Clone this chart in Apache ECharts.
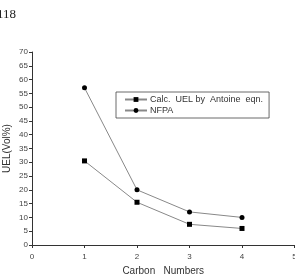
<!DOCTYPE html>
<html>
<head>
<meta charset="utf-8">
<script src="https://cdn.jsdelivr.net/npm/echarts@6/dist/echarts.min.js"></script>
<style>
html, body { margin: 0; padding: 0; background: #fff; }
#main { width: 295px; height: 278px; }
</style>
</head>
<body>
<div id="main"></div>
<script>
// data
var carbonNumbers = [1, 2, 3, 4];
var calcUel = [30.5, 15.5, 7.5, 6];
var nfpaUel = [57, 20, 12, 10];
var seriesNames = ['Calc.  UEL by  Antoine  eqn.', 'NFPA'];

function pairs(xs, ys) {
	return xs.map(function (x, i) { return [x, ys[i]]; });
}

var chart = echarts.init(document.getElementById('main'));

var axisText = { color: '#444', fontSize: 8, fontFamily: 'Liberation Sans' };

chart.setOption({
	animation: false,
	textStyle: { fontFamily: 'Liberation Sans' },
	graphic: [
		{
			type: 'text',
			left: -3,
			top: 8,
			style: { text: '118', fontFamily: 'Liberation Serif', fontSize: 13, fill: '#222' }
		}
	],
	grid: { left: 32, top: 52, right: 0.5, bottom: 33, outerBoundsMode: 'none', containLabel: false },
	legend: {
		orient: 'vertical',
		left: 116,
		top: 92,
		width: 155,
		padding: [3, 6, 3, 8],
		itemGap: 2,
		itemWidth: 22,
		itemHeight: 6,
		borderColor: '#444',
		borderWidth: 0.8,
		borderRadius: 0,
		textStyle: { color: '#333', fontSize: 9, padding: [0, 0, 0, -2] },
		data: seriesNames
	},
	xAxis: {
		type: 'value',
		min: 0, max: 5, interval: 1,
		name: 'Carbon   Numbers',
		nameLocation: 'middle',
		nameGap: 21,
		nameMoveOverlap: false,
		nameTextStyle: { color: '#333', fontSize: 10 },
		axisLine: { lineStyle: { color: '#333', width: 1 } },
		axisTick: { length: 3, lineStyle: { color: '#333' } },
		axisLabel: axisText,
		splitLine: { show: false }
	},
	yAxis: {
		type: 'value',
		min: 0, max: 70, interval: 5,
		name: 'UEL(Vol%)',
		nameLocation: 'middle',
		nameGap: 20,
		nameMoveOverlap: false,
		nameTextStyle: { color: '#333', fontSize: 10 },
		axisLine: { show: true, lineStyle: { color: '#333', width: 1 } },
		axisTick: { show: true, length: 3, lineStyle: { color: '#333' } },
		axisLabel: Object.assign({ margin: 4 }, axisText),
		splitLine: { show: false }
	},
	series: [
		{
			name: seriesNames[0],
			type: 'line',
			symbol: 'rect',
			symbolSize: 5,
			data: pairs(carbonNumbers, calcUel),
			lineStyle: { color: '#888', width: 1 },
			itemStyle: { color: '#000' }
		},
		{
			name: seriesNames[1],
			type: 'line',
			symbol: 'circle',
			symbolSize: 5,
			data: pairs(carbonNumbers, nfpaUel),
			lineStyle: { color: '#888', width: 1 },
			itemStyle: { color: '#000' }
		}
	]
});
</script>
</body>
</html>
